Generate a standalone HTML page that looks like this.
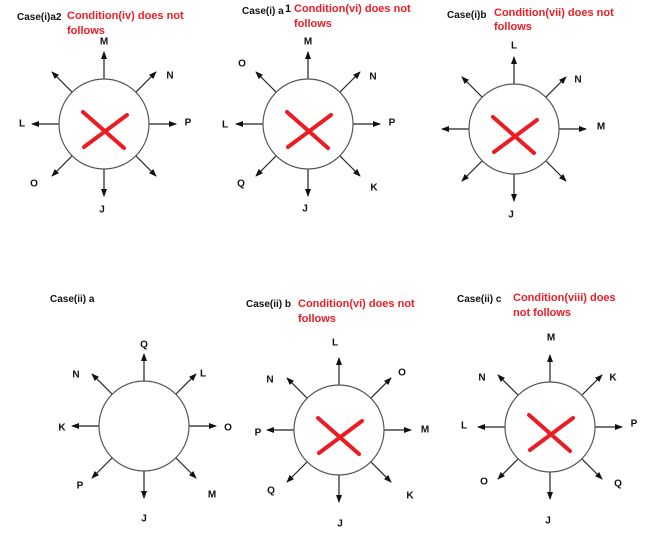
<!DOCTYPE html>
<html><head><meta charset="utf-8"><style>
html,body{margin:0;padding:0;background:#fff;}
svg{display:block;}
text{font-family:"Liberation Sans",sans-serif;}
.l{font-size:10px;font-weight:bold;fill:#111;text-anchor:middle;dominant-baseline:central;}
.h{font-size:10px;font-weight:bold;fill:#111;}
.r{font-size:11px;font-weight:bold;fill:#ee1c25;}
.c{fill:#fff;stroke:#555;stroke-width:1.2;}
.a{stroke:#222;stroke-width:1.2;marker-end:url(#ah);}
.x{stroke:#ec1c24;stroke-width:4;stroke-linecap:round;}
</style></head><body>
<svg width="669" height="549" viewBox="0 0 669 549" xmlns="http://www.w3.org/2000/svg">
<defs>
<marker id="ah" markerWidth="8" markerHeight="8" refX="7" refY="4" orient="auto" markerUnits="userSpaceOnUse">
<path d="M0,1 L8,4 L0,7 z" fill="#111"/>
</marker>
<g id="arr">
<line class="a" x1="0" y1="-45" x2="0" y2="-72"/>
<line class="a" x1="0" y1="45" x2="0" y2="72"/>
<line class="a" x1="-45" y1="0" x2="-72" y2="0"/>
<line class="a" x1="45" y1="0" x2="72" y2="0"/>
<line class="a" x1="32" y1="-32" x2="52" y2="-52"/>
<line class="a" x1="-32" y1="-32" x2="-52" y2="-52"/>
<line class="a" x1="32" y1="32" x2="52" y2="52"/>
<line class="a" x1="-32" y1="32" x2="-52" y2="52"/>
<circle class="c" cx="0" cy="0" r="45"/>
</g>
<g id="xx">
<line class="x" x1="-21" y1="-12" x2="20" y2="24"/>
<line class="x" x1="23" y1="-9" x2="-20" y2="23"/>
</g>
</defs>

<!-- Diagram 1 -->
<text class="h" x="17" y="20">Case(i)a2</text>
<text class="r" x="67" y="19">Condition(iv) does not</text>
<text class="r" x="67" y="34">follows</text>
<g transform="translate(104,124)">
<use href="#arr"/><use href="#xx"/>
<text class="l" x="0" y="-82">M</text>
<text class="l" x="66" y="-48">N</text>
<text class="l" x="84" y="-1">P</text>
<text class="l" x="-82" y="0">L</text>
<text class="l" x="-70" y="60">O</text>
<text class="l" x="-2" y="86">J</text>
</g>

<!-- Diagram 2 -->
<text class="h" x="242" y="14">Case(i) a</text>
<text class="h" x="285" y="12" style="font-size:11px">1</text>
<text class="r" x="294" y="12">Condition(vi) does not</text>
<text class="r" x="294" y="27">follows</text>
<g transform="translate(308,124)">
<use href="#arr"/><use href="#xx"/>
<text class="l" x="0" y="-82">M</text>
<text class="l" x="-66" y="-60">O</text>
<text class="l" x="65" y="-47">N</text>
<text class="l" x="84" y="-1">P</text>
<text class="l" x="-83" y="1">L</text>
<text class="l" x="-67" y="60">Q</text>
<text class="l" x="66" y="64">K</text>
<text class="l" x="-3" y="85">J</text>
</g>

<!-- Diagram 3 -->
<text class="h" x="447" y="18">Case(i)b</text>
<text class="r" x="494" y="16">Condition(vii) does not</text>
<text class="r" x="494" y="30">follows</text>
<g transform="translate(514,129)">
<use href="#arr"/><use href="#xx"/>
<text class="l" x="0" y="-83">L</text>
<text class="l" x="64" y="-49">N</text>
<text class="l" x="87" y="-2">M</text>
<text class="l" x="-3" y="86">J</text>
</g>

<!-- Diagram 4 -->
<text class="h" x="50" y="302">Case(ii) a</text>
<g transform="translate(144,426)">
<use href="#arr"/>
<text class="l" x="0" y="-81">Q</text>
<text class="l" x="-68" y="-51">N</text>
<text class="l" x="59" y="-52">L</text>
<text class="l" x="-82" y="2">K</text>
<text class="l" x="84" y="2">O</text>
<text class="l" x="-64" y="60">P</text>
<text class="l" x="68" y="69">M</text>
<text class="l" x="0" y="93">J</text>
</g>

<!-- Diagram 5 -->
<text class="h" x="246" y="307">Case(ii) b</text>
<text class="r" x="298" y="307">Condition(vi) does not</text>
<text class="r" x="298" y="322">follows</text>
<g transform="translate(339,430)">
<use href="#arr"/><use href="#xx"/>
<text class="l" x="-4" y="-87">L</text>
<text class="l" x="-69" y="-50">N</text>
<text class="l" x="63" y="-57">O</text>
<text class="l" x="-81" y="3">P</text>
<text class="l" x="86" y="0">M</text>
<text class="l" x="-68" y="61">Q</text>
<text class="l" x="71" y="66">K</text>
<text class="l" x="1" y="94">J</text>
</g>

<!-- Diagram 6 -->
<text class="h" x="457" y="302">Case(ii) c</text>
<text class="r" x="513" y="301">Condition(viii) does</text>
<text class="r" x="513" y="316">not follows</text>
<g transform="translate(550,427)">
<use href="#arr"/><use href="#xx"/>
<text class="l" x="1" y="-89">M</text>
<text class="l" x="-68" y="-49">N</text>
<text class="l" x="63" y="-49">K</text>
<text class="l" x="-86" y="-1">L</text>
<text class="l" x="84" y="-3">P</text>
<text class="l" x="-66" y="55">O</text>
<text class="l" x="68" y="57">Q</text>
<text class="l" x="-2" y="94">J</text>
</g>
</svg>
</body></html>
